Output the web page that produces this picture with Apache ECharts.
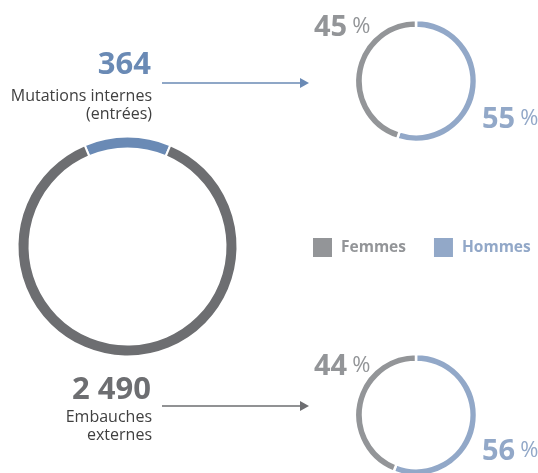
<!DOCTYPE html>
<html><head><meta charset="utf-8">
<script src="https://cdn.jsdelivr.net/npm/echarts@6/dist/echarts.min.js"></script>
<style>html,body{margin:0;padding:0;background:#fff}#c{width:538px;height:473px}</style>
</head><body><div id="c"></div>
<script>
const mainNames = ['Mutations internes (entrées)', 'Embauches externes'];
const mainValues = [364, 2490];
const mainNumberLabels = ['364', '2 490'];
const mainTextLines = [['Mutations internes', '(entrées)'], ['Embauches', 'externes']];
const genderNames = ['Femmes', 'Hommes'];
const topShares = [45, 55];      // Femmes, Hommes (mutations internes)
const bottomShares = [44, 56];   // Femmes, Hommes (embauches externes)

const FONT = '"Open Sans", "Noto Sans", sans-serif';
const cBigGrey = '#6d6e71', cBigBlue = '#6a8ab5';
const cGrey = '#939598', cBlue = '#92a8c8';

const total = mainValues[0] + mainValues[1];
const bigStart = 90 + (mainValues[0] / total) * 360 / 2;

function smallPie(center, shares) {
  return {
    type: 'pie', center: center, radius: [53, 61], startAngle: 90, clockwise: true,
    silent: true, label: { show: false }, labelLine: { show: false },
    itemStyle: { borderColor: '#fff', borderWidth: 2.5 },
    data: [
      { name: genderNames[1], value: shares[1], itemStyle: { color: cBlue } },
      { name: genderNames[0], value: shares[0], itemStyle: { color: cGrey } }
    ]
  };
}

function pctText(left, top, val, color) {
  return {
    type: 'text', left: left, top: top, silent: true,
    style: {
      text: '{a|' + val + '}{b|%}',
      rich: {
        a: { fontFamily: FONT, fontWeight: 'bold', fontSize: 29, fill: color, color: color },
        b: { fontFamily: FONT, fontSize: 22, fill: color, color: color, padding: [0, 0, 2, 5] }
      }
    }
  };
}

function arrow(y, color) {
  return [
    { type: 'line', silent: true, shape: { x1: 162, y1: y, x2: 302, y2: y }, style: { stroke: color, lineWidth: 1.3 } },
    { type: 'polygon', silent: true, shape: { points: [[300, y - 5], [309, y], [300, y + 5]] }, style: { fill: color } }
  ];
}

function rightText(txt, top) {
  return { type: 'text', right: 538 - 152, top: top, silent: true,
    style: { text: txt, fontFamily: FONT, fontSize: 16, fill: '#404040' } };
}

const chart = echarts.init(document.getElementById('c'), null, { renderer: 'canvas' });
chart.setOption({
  animation: false,
  legend: {
    left: 311, top: 236, padding: 0, itemWidth: 21, itemHeight: 21, itemGap: 26, icon: 'rect',
    selectedMode: false,
    data: [
      { name: genderNames[0], textStyle: { color: cGrey } },
      { name: genderNames[1], textStyle: { color: cBlue } }
    ],
    textStyle: { fontFamily: FONT, fontWeight: 'bold', fontSize: 15.5, padding: [0, 0, 0, 3] }
  },
  series: [
    {
      type: 'pie', center: [127.5, 246.5], radius: [98, 110], startAngle: bigStart, clockwise: true,
      silent: true, label: { show: false }, labelLine: { show: false },
      itemStyle: { borderColor: '#fff', borderWidth: 2 },
      data: [
        { name: mainNames[0], value: mainValues[0], itemStyle: { color: cBigBlue } },
        { name: mainNames[1], value: mainValues[1], itemStyle: { color: cBigGrey } }
      ]
    },
    smallPie([416, 81], topShares),
    smallPie([416, 415], bottomShares)
  ],
  graphic: [
    { type: 'text', right: 538 - 151, top: 50, silent: true,
      style: { text: mainNumberLabels[0], fontFamily: FONT, fontWeight: 'bold', fontSize: 31, fill: cBigBlue } },
    rightText(mainTextLines[0][0], 88),
    rightText(mainTextLines[0][1], 106),
    { type: 'text', right: 538 - 151, top: 375, silent: true,
      style: { text: mainNumberLabels[1], fontFamily: FONT, fontWeight: 'bold', fontSize: 31, fill: cBigGrey } },
    rightText(mainTextLines[1][0], 409),
    rightText(mainTextLines[1][1], 427),
    ...arrow(83, cBigBlue),
    ...arrow(406, cBigGrey),
    pctText(314, 13, topShares[0], cGrey),
    pctText(482, 105, topShares[1], cBlue),
    pctText(314, 352, bottomShares[0], cGrey),
    pctText(482, 437, bottomShares[1], cBlue)
  ]
});
</script></body></html>
